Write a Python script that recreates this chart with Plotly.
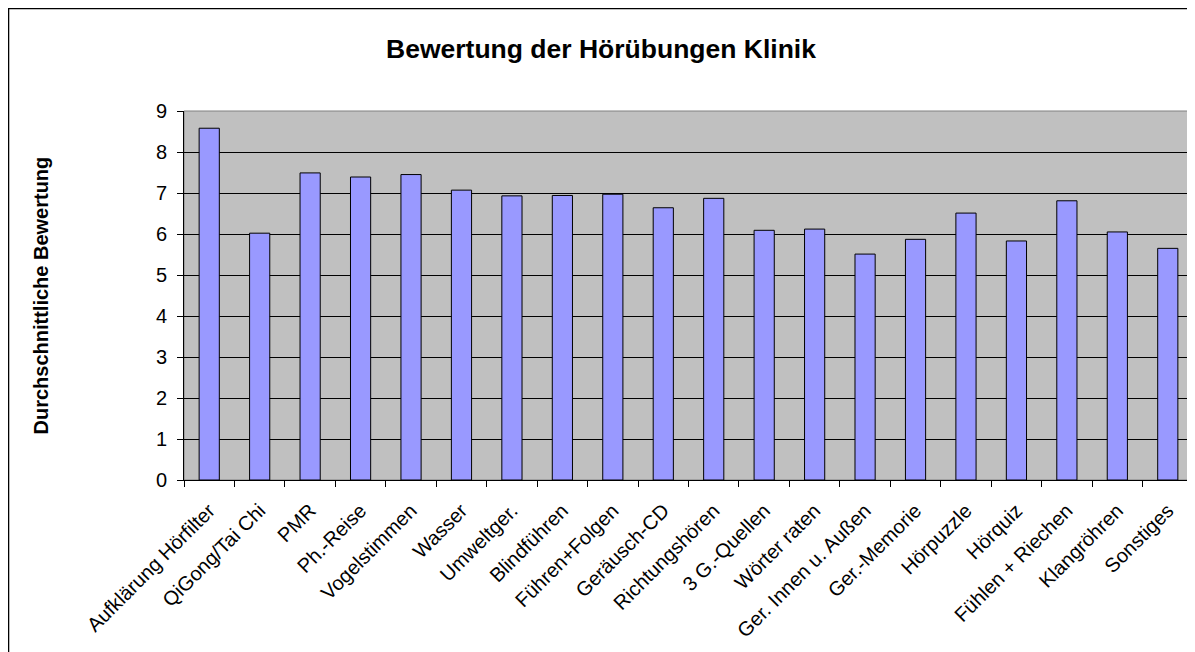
import plotly.graph_objects as go

categories = [
    "Aufklärung Hörfilter", "QiGong/Tai Chi", "PMR", "Ph.-Reise", "Vogelstimmen",
    "Wasser", "Umweltger.", "Blindführen", "Führen+Folgen", "Geräusch-CD",
    "Richtungshören", "3 G.-Quellen", "Wörter raten", "Ger. Innen u. Außen",
    "Ger.-Memorie", "Hörpuzzle", "Hörquiz", "Fühlen + Riechen", "Klangröhren",
    "Sonstiges",
]
ratings = [
    8.58, 6.02, 7.49, 7.39, 7.45, 7.07, 6.93, 6.94, 6.97, 6.64,
    6.87, 6.09, 6.12, 5.51, 5.87, 6.51, 5.83, 6.81, 6.05, 5.65,
]

FONT = "Arial, Liberation Sans, sans-serif"

fig = go.Figure()
fig.add_trace(
    go.Bar(
        x=categories,
        y=ratings,
        marker=dict(color="#9999FF", line=dict(color="black", width=1)),
    )
)

# plot area frame (grey) and outer chart border
fig.add_shape(
    type="rect", xref="paper", yref="paper", x0=0, x1=1, y0=0, y1=1,
    line=dict(color="#808080", width=1), layer="below",
)
fig.add_shape(
    type="rect", xref="paper", yref="paper", x0=-0.1739, x1=1.1, y0=-0.6, y1=1.2778,
    line=dict(color="black", width=1.5),
)

fig.add_annotation(
    text="<b>Durchschnittliche Bewertung</b>",
    xref="paper", yref="paper", x=-0.1427, y=0.5,
    textangle=-90, showarrow=False, xanchor="center", yanchor="middle",
    font=dict(family=FONT, size=20, color="black"),
)

fig.update_layout(
    width=1187,
    height=644,
    margin=dict(l=176, r=2, t=103, b=172),
    paper_bgcolor="white",
    plot_bgcolor="#C0C0C0",
    bargap=0.6,
    showlegend=False,
    font=dict(family=FONT, size=20, color="black"),
    title=dict(
        text="<b>Bewertung der Hörübungen Klinik</b>",
        x=0.4996, xref="container", xanchor="center",
        y=0.9363, yref="container", yanchor="middle",
        font=dict(family=FONT, size=26.5, color="black"),
    ),
    xaxis=dict(
        tickangle=-45,
        showline=True, linecolor="black", linewidth=1,
        ticks="outside", ticklen=6, tickcolor="black",
        tickson="boundaries",
        ticklabelstandoff=10,
        showgrid=False,
        tickfont=dict(size=20),
    ),
    yaxis=dict(
        range=[0, 9], dtick=1,
        showline=True, linecolor="black", linewidth=1,
        ticks="outside", ticklen=6, tickcolor="black",
        ticklabelstandoff=6,
        showgrid=True, gridcolor="black", gridwidth=1,
        zeroline=False,
        tickfont=dict(size=20),
    ),
)

fig.write_html("out.html")
